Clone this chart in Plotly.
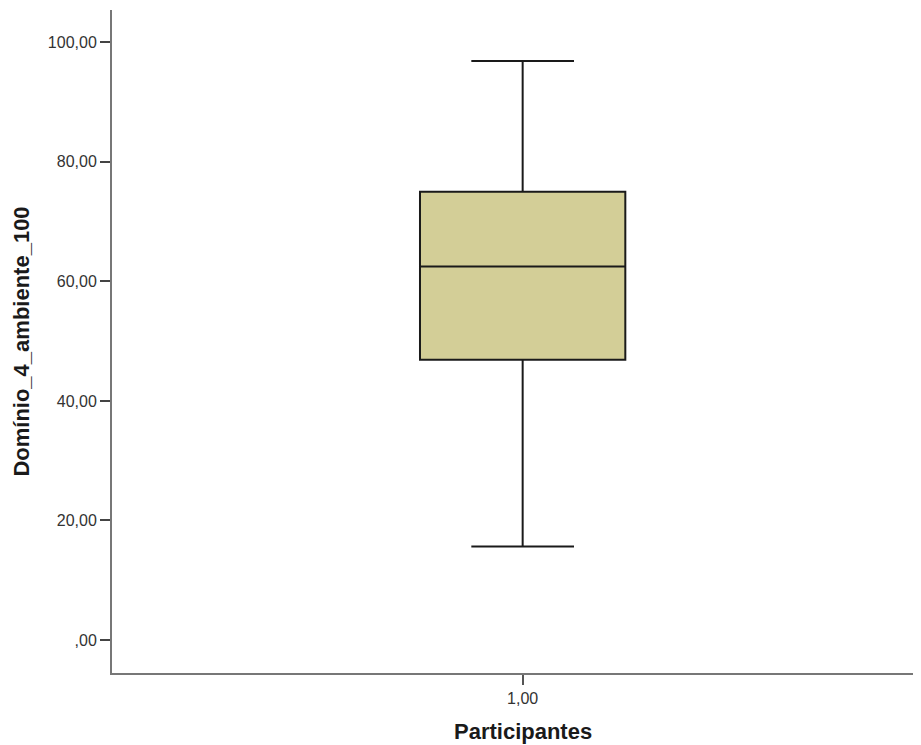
import plotly.graph_objects as go

# Data
categories = [1.0]
q1_vals = [46.875]
median_vals = [62.5]
q3_vals = [75.0]
lower_vals = [15.625]
upper_vals = [96.875]
y_tick_vals = [0, 20, 40, 60, 80, 100]
y_tick_text = [",00", "20,00", "40,00", "60,00", "80,00", "100,00"]
x_tick_vals = [1.0]
x_tick_text = ["1,00"]
x_title = "Participantes"
y_title = "Domínio_4_ambiente_100"

fig = go.Figure()
fig.add_trace(go.Box(
    x=categories,
    q1=q1_vals,
    median=median_vals,
    q3=q3_vals,
    lowerfence=lower_vals,
    upperfence=upper_vals,
    width=0.5,
    whiskerwidth=0.5,
    fillcolor="#D3CE97",
    line=dict(color="#1a1a1a", width=2),
    boxpoints=False,
    hoverinfo="skip",
    showlegend=False,
))

font_family = "Liberation Sans, Arial, sans-serif"
fig.update_layout(
    width=913,
    height=737,
    margin=dict(l=104, r=0, t=2, b=72),
    paper_bgcolor="white",
    plot_bgcolor="white",
    font=dict(family=font_family, color="#222222"),
    xaxis=dict(
        range=[0.0, 1.97],
        tickvals=x_tick_vals,
        ticktext=x_tick_text,
        ticks="outside",
        ticklen=10,
        tickwidth=2,
        tickcolor="#555555",
        showline=True,
        linecolor="#777777",
        linewidth=2,
        showgrid=False,
        zeroline=False,
        tickfont=dict(size=16, color="#333333"),
        automargin=False,
    ),
    yaxis=dict(
        range=[-5.52, 105.4],
        tickvals=y_tick_vals,
        ticktext=y_tick_text,
        ticks="outside",
        ticklen=10,
        tickwidth=2,
        tickcolor="#444444",
        showline=True,
        linecolor="#777777",
        linewidth=2,
        showgrid=False,
        zeroline=False,
        tickfont=dict(size=16, color="#333333"),
        title=dict(text="<b>" + y_title + "</b>", font=dict(size=22, color="#1a1a1a"), standoff=12),
        automargin=False,
    ),
)

fig.add_annotation(
    text="<b>" + x_title + "</b>",
    xref="x", yref="paper",
    x=categories[0], y=0,
    xanchor="center", yanchor="middle",
    yshift=-58,
    showarrow=False,
    font=dict(size=22, color="#1a1a1a", family=font_family),
)

fig.write_html("out.html")
